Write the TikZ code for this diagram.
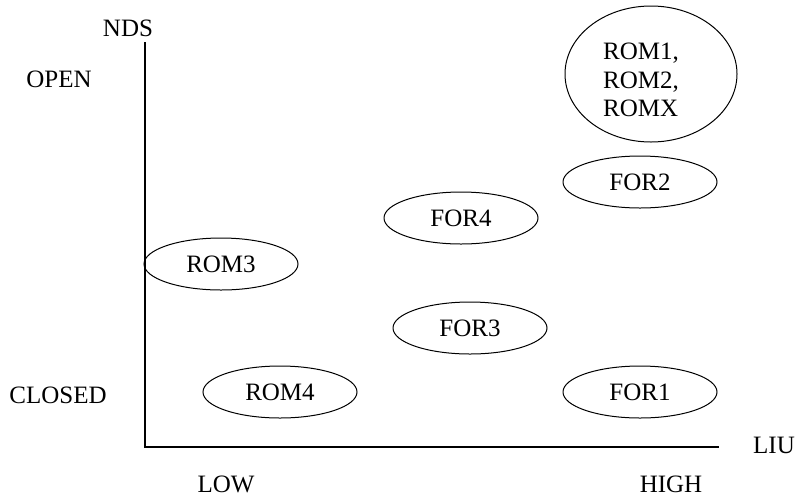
\documentclass[tikz,border=0pt]{standalone}
\usepackage{fontspec}
\setmainfont{Liberation Serif}
\usetikzlibrary{shapes.geometric}
\tikzset{
  group/.style = {draw, ellipse, line width=0.75pt, inner sep=0pt,
                  minimum width=115.5pt, minimum height=39pt},
  axis/.style  = {line width=1.1pt},
}
\begin{document}
\begin{tikzpicture}[x=0.75pt, y=-0.75pt, font=\fontsize{18.75pt}{21.5pt}\selectfont]
  \useasboundingbox (0, 0) rectangle (799, 497);
  \coordinate (top)    at (145, 42);
  \coordinate (origin) at (145, 447);
  \coordinate (right)  at (719, 447);
  \draw[axis] (top) -- (origin) -- (right);
  \node (nds)    at (128, 28)  {NDS};
  \node (open)   at (59, 79)   {OPEN};
  \node (closed) at (58, 395)  {CLOSED};
  \node (liu)    at (774, 445) {LIU};
  \node (low)    at (226, 484) {LOW};
  \node (high)   at (671, 484) {HIGH};
  \node[group, minimum width=129pt, minimum height=102pt] (rom) at (651, 74) {};
  \node[align=left] (romtext) at (641, 80) {ROM1,\\ROM2,\\ROMX};
  \node[group] (for2) at (640, 182) {FOR2};
  \node[group] (for4) at (461, 218) {FOR4};
  \node[group] (rom3) at (221, 264) {ROM3};
  \node[group] (for3) at (470, 328) {FOR3};
  \node[group] (rom4) at (280, 392) {ROM4};
  \node[group] (for1) at (640, 392) {FOR1};
\end{tikzpicture}
\end{document}
